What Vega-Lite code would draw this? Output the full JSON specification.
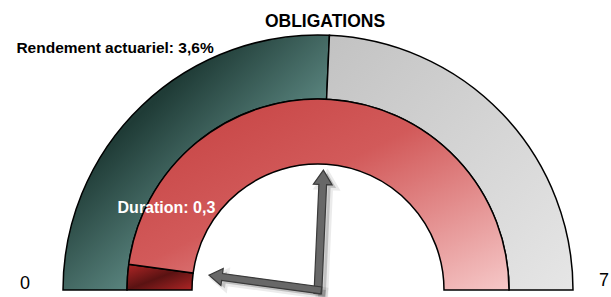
{
  "$schema": "https://vega.github.io/schema/vega-lite/v6.json",
  "width": 586,
  "height": 260,
  "autosize": {"type": "none"},
  "padding": {"left": 25, "top": 30, "right": 0, "bottom": 7},
  "background": "white",
  "config": {"view": {"stroke": null}, "font": "Liberation Sans"},
  "datasets": {
    "arcs": [
      {"ring": "outer", "part": "Rendement", "start": 0, "end": 3.6},
      {"ring": "outer", "part": "Reste", "start": 3.6, "end": 7},
      {"ring": "inner", "part": "Duration", "start": 0, "end": 0.3},
      {"ring": "inner", "part": "Reste", "start": 0.3, "end": 7}
    ],
    "needles": [
      {"gauge": "Rendement", "value": 3.6},
      {"gauge": "Duration", "value": 0.3}
    ],
    "ends": [
      {"v": 0, "label": "0"},
      {"v": 7, "label": "7"}
    ]
  },
  "layer": [
    {
      "data": {"name": "arcs"},
      "transform": [{"filter": "datum.ring === 'outer' && datum.part === 'Rendement'"}],
      "mark": {
        "type": "arc", "y": "height", "radius": 255, "radius2": 191,
        "stroke": "#000", "strokeWidth": 1.5,
        "fill": {"gradient": "linear", "x1": 0, "y1": 0, "x2": 1, "y2": 1,
          "stops": [
            {"offset": 0, "color": "#3a5f58"},
            {"offset": 0.3, "color": "#1f3b36"},
            {"offset": 0.65, "color": "#5f8b85"},
            {"offset": 1, "color": "#8fb8b2"}
          ]}
      },
      "encoding": {
        "theta": {"field": "start", "type": "quantitative", "stack": null,
          "scale": {"domain": [0, 7], "range": [{"expr": "-PI/2"}, {"expr": "PI/2"}]}},
        "theta2": {"field": "end"}
      }
    },
    {
      "data": {"name": "arcs"},
      "transform": [{"filter": "datum.ring === 'outer' && datum.part === 'Reste'"}],
      "mark": {
        "type": "arc", "y": "height", "radius": 255, "radius2": 191,
        "stroke": "#000", "strokeWidth": 1.5,
        "fill": {"gradient": "linear", "x1": 0, "y1": 0, "x2": 1, "y2": 1,
          "stops": [
            {"offset": 0, "color": "#c2c2c2"},
            {"offset": 1, "color": "#e6e6e6"}
          ]}
      },
      "encoding": {
        "theta": {"field": "start", "type": "quantitative", "stack": null},
        "theta2": {"field": "end"}
      }
    },
    {
      "data": {"name": "arcs"},
      "transform": [{"filter": "datum.ring === 'inner' && datum.part === 'Duration'"}],
      "mark": {
        "type": "arc", "y": "height", "radius": 191, "radius2": 126,
        "stroke": "#000", "strokeWidth": 1.5,
        "fill": {"gradient": "linear", "x1": 0, "y1": 0, "x2": 1, "y2": 1,
          "stops": [
            {"offset": 0, "color": "#b02626"},
            {"offset": 0.5, "color": "#5a1212"},
            {"offset": 1, "color": "#b02626"}
          ]}
      },
      "encoding": {
        "theta": {"field": "start", "type": "quantitative", "stack": null},
        "theta2": {"field": "end"}
      }
    },
    {
      "data": {"name": "arcs"},
      "transform": [{"filter": "datum.ring === 'inner' && datum.part === 'Reste'"}],
      "mark": {
        "type": "arc", "y": "height", "radius": 191, "radius2": 126,
        "stroke": "#000", "strokeWidth": 1.5,
        "fill": {"gradient": "linear", "x1": 0, "y1": 0, "x2": 1, "y2": 1,
          "stops": [
            {"offset": 0, "color": "#c43f3f"},
            {"offset": 0.45, "color": "#d25a5a"},
            {"offset": 1, "color": "#f6c8c8"}
          ]}
      },
      "encoding": {
        "theta": {"field": "start", "type": "quantitative", "stack": null},
        "theta2": {"field": "end"}
      }
    },
    {
      "data": {"name": "ends"},
      "transform": [{"filter": "datum.v === 0"}],
      "mark": {"type": "text", "y": "height", "fontSize": 18, "color": "#000", "align": "center", "baseline": "alphabetic", "dy": -1},
      "encoding": {
        "theta": {"field": "v", "type": "quantitative"},
        "radius": {"value": 293},
        "text": {"field": "label"}
      }
    },
    {
      "data": {"name": "ends"},
      "transform": [{"filter": "datum.v === 7"}],
      "mark": {"type": "text", "y": "height", "fontSize": 18, "color": "#000", "align": "center", "baseline": "alphabetic", "dy": -4},
      "encoding": {
        "theta": {"field": "v", "type": "quantitative"},
        "radius": {"value": 286},
        "text": {"field": "label"}
      }
    },
    {
      "data": {"values": [{"label": "OBLIGATIONS"}]},
      "mark": {"type": "text", "y": "height", "fontSize": 17.5, "fontWeight": "bold", "color": "#000", "align": "center", "baseline": "alphabetic"},
      "encoding": {
        "theta": {"value": 0.0266},
        "radius": {"value": 263},
        "text": {"field": "label"}
      }
    },
    {
      "data": {"values": [{"label": "Rendement actuariel: 3,6%"}]},
      "mark": {"type": "text", "y": "height", "fontSize": 15.5, "fontWeight": "bold", "color": "#000", "align": "center", "baseline": "alphabetic"},
      "encoding": {
        "theta": {"value": -0.7083},
        "radius": {"value": 312},
        "text": {"field": "label"}
      }
    },
    {
      "data": {"values": [{"label": "Duration: 0,3"}]},
      "mark": {"type": "text", "y": "height", "fontSize": 16, "fontWeight": "bold", "color": "#fff", "align": "center", "baseline": "alphabetic"},
      "encoding": {
        "theta": {"value": -1.1006},
        "radius": {"value": 170},
        "text": {"field": "label"}
      }
    },
    {
      "data": {"name": "needles"},
      "mark": {
        "type": "point", "y": "height", "xOffset": 4, "yOffset": 3,
        "shape": "M -0.032 0.03 L -0.032 -0.88 L -0.078 -0.88 L 0 -1 L 0.078 -0.88 L 0.032 -0.88 L 0.032 0.03 Z",
        "filled": true, "fill": "#000", "fillOpacity": 0.18, "stroke": "#000", "strokeOpacity": 0.08, "strokeWidth": 5, "opacity": 1
      },
      "encoding": {
        "angle": {"field": "value", "type": "quantitative", "scale": {"domain": [0, 7], "range": [-90, 90]}},
        "size": {"field": "gauge", "type": "nominal", "scale": {"domain": ["Rendement", "Duration"], "range": [57600, 48400]}, "legend": null}
      }
    },
    {
      "data": {"name": "needles"},
      "mark": {
        "type": "point", "y": "height",
        "shape": "M -0.032 0.03 L -0.032 -0.88 L -0.078 -0.88 L 0 -1 L 0.078 -0.88 L 0.032 -0.88 L 0.032 0.03 Z",
        "filled": true, "fill": "#686868", "stroke": "#3a3a3a", "strokeWidth": 1.2, "opacity": 1
      },
      "encoding": {
        "angle": {"field": "value", "type": "quantitative", "scale": {"domain": [0, 7], "range": [-90, 90]}},
        "size": {"field": "gauge", "type": "nominal", "scale": {"domain": ["Rendement", "Duration"], "range": [57600, 48400]}, "legend": null}
      }
    }
  ]
}
